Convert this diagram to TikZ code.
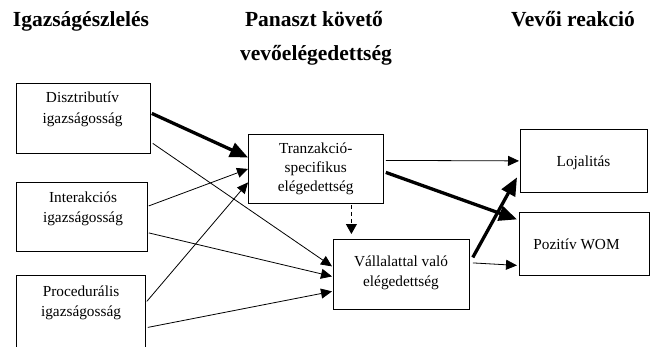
\documentclass[tikz,border=0pt]{standalone}
\usepackage{fontspec}
\setmainfont{Liberation Serif}
\usetikzlibrary{arrows.meta}
\newcommand{\mystrut}{\rule[-4pt]{0pt}{13pt}}
\begin{document}
\begin{tikzpicture}[x=1pt,y=-1pt,
  box/.style={draw, line width=0.8pt, anchor=north west, inner sep=0pt},
  hdr/.style={font=\bfseries\fontsize{21.5}{26}\selectfont, anchor=base, inner sep=0pt},
  txt/.style={font=\fontsize{15.3}{#1}\selectfont, align=center, anchor=north, inner sep=0pt},
  lbl/.style={font=\fontsize{15.3}{20}\selectfont, anchor=base, inner sep=0pt},
  arr/.style={-{Triangle[length=11pt,width=10pt]}, line width=0.8pt},
  thk/.style={-{Triangle[length=18pt,width=15pt]}, line width=3.3pt},
  dsh/.style={-{Triangle[length=10pt,width=11pt]}, line width=0.8pt, dash pattern=on 4pt off 3pt}
]
\useasboundingbox (0,0) rectangle (653,346);
\clip (0,0) rectangle (653,346);

% headers
\node[hdr] (h1) at (81,26) {Igazságészlelés};
\node[hdr] (h2) at (314,26) {Panaszt követő};
\node[hdr] (h3) at (316,60) {vevőelégedettség};
\node[hdr] (h4) at (573,26) {Vevői reakció};

% boxes
\node[box, minimum width=134pt, minimum height=70pt] (dis) at (16,83) {};
\node[box, minimum width=131pt, minimum height=69pt] (int) at (16,182) {};
\node[box, minimum width=129pt, minimum height=90pt] (pro) at (16,275) {};
\node[box, minimum width=135pt, minimum height=69pt] (tra) at (248,134) {};
\node[box, minimum width=136pt, minimum height=70pt] (val) at (333,239) {};
\node[box, minimum width=127pt, minimum height=63pt] (loj) at (520,129) {};
\node[box, minimum width=130pt, minimum height=63pt] (poz) at (519,212) {};

% box texts
\node[txt=21] (tdis) at (82.5,91.3) {\mystrut Disztributív\\\mystrut igazságosság};
\node[txt=20] (tint) at (83,192) {\mystrut Interakciós\\\mystrut igazságosság};
\node[txt=20.7] (tpro) at (81,285.3) {\mystrut Procedurális\\\mystrut igazságosság};
\node[txt=18.7] (ttra) at (315.7,143) {\mystrut Tranzakció-\\\mystrut specifikus\\\mystrut elégedettség};
\node[txt=20] (tval) at (401,255.3) {\mystrut Vállalattal való\\\mystrut elégedettség};
\node[lbl] (tloj) at (583.5,166.7) {Lojalitás};
\node[lbl] (tpoz) at (576.5,249.3) {Pozitív WOM};

% connectors
\draw[thk] ([xshift=1pt,yshift=5pt]dis.east) -- ([yshift=11.5pt]tra.west);
\draw[arr] ([xshift=2pt,yshift=-25pt]dis.east) -- ([xshift=-1pt,yshift=8pt]val.west);
\draw[arr] ([xshift=1pt,yshift=11pt]int.east) -- (tra.west);
\draw[arr] ([xshift=1pt,yshift=-16pt]int.east) -- ([xshift=-1pt,yshift=-2pt]val.west);
\draw[arr] ([xshift=1pt,yshift=19pt]pro.east) -- ([yshift=-13.5pt]tra.west);
\draw[arr] ([xshift=2pt,yshift=-7pt]pro.east) -- ([xshift=-1pt,yshift=-17pt]val.west);
\draw[arr] ([xshift=2pt,yshift=8.5pt]tra.east) -- ([xshift=-1pt]loj.west);
\draw[thk] ([xshift=2pt,yshift=-3.5pt]tra.east) -- ([xshift=-2pt,yshift=24.5pt]poz.west);
\draw[dsh] ([xshift=35.5pt,yshift=-1pt]tra.south) -- ([xshift=-50pt,yshift=5pt]val.north);
\draw[thk] ([xshift=3pt,yshift=17pt]val.east) -- ([xshift=-3pt,yshift=-16.5pt]loj.west);
\draw[arr] ([xshift=3pt,yshift=11.5pt]val.east) -- ([xshift=-2pt,yshift=-21.5pt]poz.west);
\end{tikzpicture}
\end{document}
